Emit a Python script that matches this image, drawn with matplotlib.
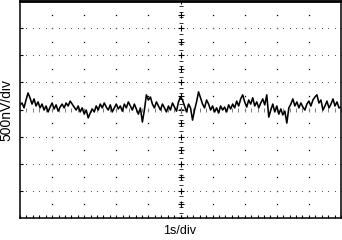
import numpy as np
import matplotlib
matplotlib.use('Agg')
import matplotlib.pyplot as plt

plt.rcParams['font.family'] = ['Liberation Sans', 'DejaVu Sans']

# noise trace, in divisions (500nV/div) left to right
noise = [0.17, 0.24, 0.06, 0.35, 0.61, 0.43, 0.20, 0.39, 0.13, 0.28, 0.06,
         0.20, -0.02, 0.13, -0.09, 0.09, 0.24, 0.02, 0.17, -0.06, 0.09,
         0.20, 0.06, 0.24, 0.13, 0.31, 0.20, 0.09, -0.02, 0.13, -0.09,
         0.06, -0.17, -0.02, -0.31, -0.13, 0.02, -0.09, 0.13, -0.02, 0.20,
         0.06, 0.24, 0.09, -0.02, 0.17, -0.09, 0.06, 0.20, 0.02, 0.13,
         -0.06, 0.20, 0.06, 0.28, 0.13, -0.02, 0.20, 0.02, -0.17, 0.06,
         -0.46, -0.02, 0.54, 0.35, 0.46, 0.20, 0.06, 0.28, 0.13, -0.02,
         0.20, 0.06, -0.09, 0.13, -0.02, 0.24, 0.09, -0.06, 0.28, 0.46,
         0.35, 0.13, -0.09, 0.20, 0.06, -0.39, -0.02, 0.28, 0.65, 0.43,
         0.20, 0.06, 0.35, 0.20, -0.02, 0.13, -0.09, 0.06, -0.13, 0.13,
         -0.02, 0.09, -0.09, 0.17, 0.02, 0.20, 0.06, 0.31, 0.13, 0.39,
         0.54, 0.28, 0.09, 0.35, 0.20, 0.43, 0.13, 0.28, 0.06, 0.24,
         0.39, 0.17, 0.54, -0.28, -0.02, 0.20, -0.09, 0.13, -0.17, 0.02,
         -0.20, -0.06, -0.50, 0.06, 0.20, 0.39, 0.13, 0.28, 0.06, 0.24,
         0.09, -0.02, 0.20, 0.31, 0.13, 0.35, 0.46, 0.54, 0.24, 0.35,
         -0.02, 0.13, 0.31, 0.06, 0.20, 0.39, 0.13, 0.28, 0.06, 0.09]
t = np.linspace(0, 10, len(noise))  # 10 divisions, 1s/div

xdiv = np.arange(1, 10)
ydiv = np.arange(-3, 4)

fig = plt.figure(figsize=(3.42, 2.40), dpi=100)
ax = fig.add_axes([20/342, 22/240, 321/342, 217/240])

# graticule: dotted columns and rows
ycol = np.arange(-4, 4.01, 0.5)
for x in xdiv:
    if x == 5:
        continue
    ax.plot(np.full(len(ycol), x), ycol, ls='none', marker='s', ms=0.9, mew=0, color='black')
xrow = np.arange(0, 10.01, 0.2)
for y in ydiv:
    if y == 0:
        continue
    ax.plot(xrow, np.full(len(xrow), y), ls='none', marker='s', ms=0.7, mew=0, color='0.35')

# center cross with fine ticks
ytick = np.arange(-4, 4.01, 0.2)
ax.plot(np.full(len(ytick), 5), ytick, ls='none', marker='_', ms=2.5, mew=0.7, color='0.2')
ax.plot(np.full(len(ycol), 5), ycol, ls='none', marker='+', ms=4, mew=0.8, color='black')
ax.plot(xrow, np.zeros(len(xrow)), ls='none', marker='|', ms=3, mew=0.7, color='0.5')

ax.plot(t, noise, color='black', lw=1.15)

ax.set_xlim(0, 10)
ax.set_ylim(-4, 4)
ax.set_xticks(np.arange(0, 10.01, 0.2))
ax.set_yticks(ydiv)
ax.tick_params(direction='in', length=2.5, width=0.8, labelbottom=False, labelleft=False)
for s in ax.spines.values():
    s.set_linewidth(1.1)
ax.spines['top'].set_linewidth(2)

fig.text(180/342, 1 - 231/240, '1s/div', ha='center', va='center', fontsize=9)
fig.text(6/342, 1 - 110/240, '500nV/div', ha='center', va='center', rotation=90, fontsize=10)

plt.savefig('out.png', dpi=100)
